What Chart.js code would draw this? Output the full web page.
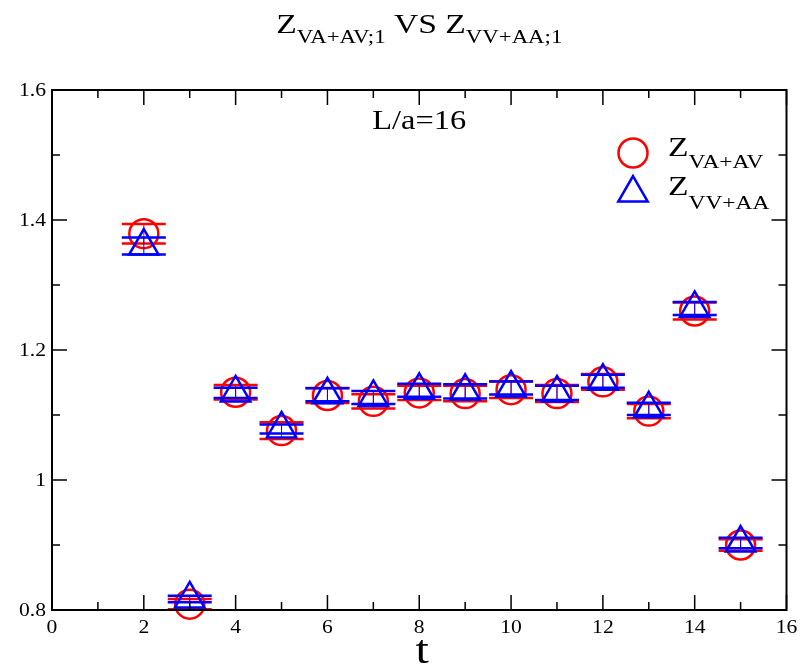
<!DOCTYPE html>
<html>
<head>
<meta charset="utf-8">
<script src="https://cdn.jsdelivr.net/npm/chart.js@4.4.1/dist/chart.umd.min.js"></script>
<style>
  body { margin: 0; background: #fff; }
  #wrap { width: 806px; height: 667px; }
</style>
</head>
<body>
<div id="wrap"><canvas id="zChart" width="806" height="667"></canvas></div>
<script>
// time slices and the two renormalisation constants with their errors
const tValues = [2, 3, 4, 5, 6, 7, 8, 9, 10, 11, 12, 13, 14, 15];
const zVaAv = [1.379, 0.809, 1.135, 1.076, 1.130, 1.121, 1.134, 1.133, 1.139, 1.133, 1.151, 1.106, 1.260, 0.900];
const zVaAvErr = [0.015, 0.008, 0.011, 0.013, 0.0115, 0.011, 0.011, 0.012, 0.013, 0.013, 0.012, 0.011, 0.013, 0.009];
const zVvAa = [1.360, 0.817, 1.134, 1.0785, 1.131, 1.127, 1.138, 1.1365, 1.1415, 1.134, 1.152, 1.1095, 1.264, 0.903];
const zVvAaErr = [0.013, 0.005, 0.008, 0.007, 0.010, 0.010, 0.010, 0.011, 0.010, 0.011, 0.010, 0.0095, 0.010, 0.008];

const xTicks = [0, 2, 4, 6, 8, 10, 12, 14, 16];
const xTickLabels = ["0", "2", "4", "6", "8", "10", "12", "14", "16"];
const xMinorTicks = [1, 3, 5, 7, 9, 11, 13, 15];
const yTicks = [0.8, 1, 1.2, 1.4, 1.6];
const yTickLabels = ["0.8", "1", "1.2", "1.4", "1.6"];
const yMinorTicks = [0.9, 1.1, 1.3, 1.5];

const RED = "#ff0000";
const BLUE = "#0000ff";
const SERIF = '"Liberation Serif", "Times New Roman", serif';
const STRETCH = 1.2;

// text in a slightly widened serif face
function drawText(ctx, str, x, y, size, align) {
  ctx.save();
  ctx.font = size + "px " + SERIF;
  const w = ctx.measureText(str).width * STRETCH;
  let x0 = x;
  if (align === "center") x0 = x - w / 2;
  if (align === "right") x0 = x - w;
  ctx.translate(x0, y);
  ctx.scale(STRETCH, 1);
  ctx.textAlign = "left";
  ctx.textBaseline = "alphabetic";
  ctx.fillStyle = "#000";
  ctx.fillText(str, 0, 0);
  ctx.restore();
  return w;
}

function runWidth(ctx, parts) {
  let w = 0;
  parts.forEach(p => {
    ctx.font = p[1] + "px " + SERIF;
    w += ctx.measureText(p[0]).width * STRETCH;
  });
  return w;
}

// parts: [text, size, baseline drop]
function drawRun(ctx, parts, x, y, align) {
  let cx = align === "center" ? x - runWidth(ctx, parts) / 2 : x;
  parts.forEach(p => {
    cx += drawText(ctx, p[0], cx, y + p[2], p[1], "left");
  });
}

const errorBars = {
  id: "errorBars",
  beforeDatasetDraw(chart, args) {
    const ds = chart.data.datasets[args.index];
    const xs = chart.scales.x;
    const ys = chart.scales.y;
    const ctx = chart.ctx;
    ctx.save();
    ctx.strokeStyle = ds.borderColor;
    ds.data.forEach((p, i) => {
      const e = ds.errors[i];
      const px = xs.getPixelForValue(p.x);
      const hi = ys.getPixelForValue(p.y + e);
      const lo = ys.getPixelForValue(p.y - e);
      ctx.lineWidth = 1;
      ctx.beginPath();
      ctx.moveTo(px, hi);
      ctx.lineTo(px, lo);
      ctx.stroke();
      ctx.lineWidth = 2.5;
      ctx.beginPath();
      ctx.moveTo(px - 22, hi);
      ctx.lineTo(px + 22, hi);
      ctx.moveTo(px - 22, lo);
      ctx.lineTo(px + 22, lo);
      ctx.stroke();
    });
    ctx.restore();
  }
};

const frameAndText = {
  id: "frameAndText",
  afterDraw(chart) {
    const ctx = chart.ctx;
    const a = chart.chartArea;
    const xs = chart.scales.x;
    const ys = chart.scales.y;

    ctx.save();
    ctx.strokeStyle = "#000";
    ctx.lineWidth = 1.5;
    ctx.beginPath();
    const tickX = (arr, len) => {
      arr.forEach(v => {
        const px = xs.getPixelForValue(v);
        ctx.moveTo(px, a.bottom);
        ctx.lineTo(px, a.bottom - len);
        ctx.moveTo(px, a.top);
        ctx.lineTo(px, a.top + len);
      });
    };
    const tickY = (arr, len) => {
      arr.forEach(v => {
        const py = ys.getPixelForValue(v);
        ctx.moveTo(a.left, py);
        ctx.lineTo(a.left + len, py);
        ctx.moveTo(a.right, py);
        ctx.lineTo(a.right - len, py);
      });
    };
    tickX(xTicks, 15);
    tickX(xMinorTicks, 8);
    tickY(yTicks, 15);
    tickY(yMinorTicks, 8);
    ctx.stroke();
    ctx.lineWidth = 2;
    ctx.strokeRect(a.left, a.top, a.right - a.left, a.bottom - a.top);
    ctx.restore();

    xTicks.forEach((v, i) => drawText(ctx, xTickLabels[i], xs.getPixelForValue(v), a.bottom + 23, 18, "center"));
    yTicks.forEach((v, i) => drawText(ctx, yTickLabels[i], a.left - 6, ys.getPixelForValue(v) + 6, 18, "right"));

    drawText(ctx, "t", (a.left + a.right) / 2 + 3, 663, 40, "center");
    drawText(ctx, "L/a=16", (a.left + a.right) / 2, 129, 27, "center");

    drawRun(ctx, [["Z", 28, 0], ["VA+AV;1", 19, 10], [" VS ", 28, 0], ["Z", 28, 0], ["VV+AA;1", 19, 10]],
      (a.left + a.right) / 2, 33, "center");

    // legend
    ctx.save();
    ctx.fillStyle = "rgba(0,0,0,0)";
    ctx.lineWidth = 2.5;
    ctx.strokeStyle = RED;
    Chart.helpers.drawPoint(ctx, { pointStyle: "circle", radius: 14.5, rotation: 0, borderWidth: 2.5 }, 633, 153);
    ctx.strokeStyle = BLUE;
    Chart.helpers.drawPoint(ctx, { pointStyle: "triangle", radius: 17, rotation: 0, borderWidth: 2.5 }, 633, 193);
    ctx.restore();
    drawRun(ctx, [["Z", 28, 0], ["VA+AV", 19.5, 12]], 668, 156, "left");
    drawRun(ctx, [["Z", 28, 0], ["VV+AA", 19.5, 14]], 668, 195, "left");
  }
};

function makeChart() {
  new Chart(document.getElementById("zChart"), {
    type: "scatter",
    data: {
      datasets: [
        {
          label: "Z_VA+AV",
          data: tValues.map((t, i) => ({ x: t, y: zVaAv[i] })),
          errors: zVaAvErr,
          pointStyle: "circle",
          pointRadius: 14.5,
          pointHoverRadius: 14.5,
          borderColor: RED,
          backgroundColor: "rgba(0,0,0,0)",
          borderWidth: 2.5,
          clip: false,
          order: 2
        },
        {
          label: "Z_VV+AA",
          data: tValues.map((t, i) => ({ x: t, y: zVvAa[i] })),
          errors: zVvAaErr,
          pointStyle: "triangle",
          pointRadius: 17,
          pointHoverRadius: 17,
          borderColor: BLUE,
          backgroundColor: "rgba(0,0,0,0)",
          borderWidth: 2.5,
          clip: false,
          order: 1
        }
      ]
    },
    options: {
      responsive: false,
      animation: false,
      events: [],
      layout: { padding: { left: 0, right: 12, top: 90, bottom: 0 } },
      plugins: { legend: { display: false }, tooltip: { enabled: false } },
      scales: {
        x: {
          type: "linear", min: 0, max: 16,
          ticks: { display: false },
          grid: { display: false, drawTicks: false },
          border: { display: false },
          afterFit(s) { s.height = 57; }
        },
        y: {
          type: "linear", min: 0.8, max: 1.6,
          ticks: { display: false },
          grid: { display: false, drawTicks: false },
          border: { display: false },
          afterFit(s) { s.width = 52; }
        }
      }
    },
    plugins: [errorBars, frameAndText]
  });
}

document.fonts.load('20px "Liberation Serif"').then(makeChart, makeChart);
</script>
</body>
</html>
